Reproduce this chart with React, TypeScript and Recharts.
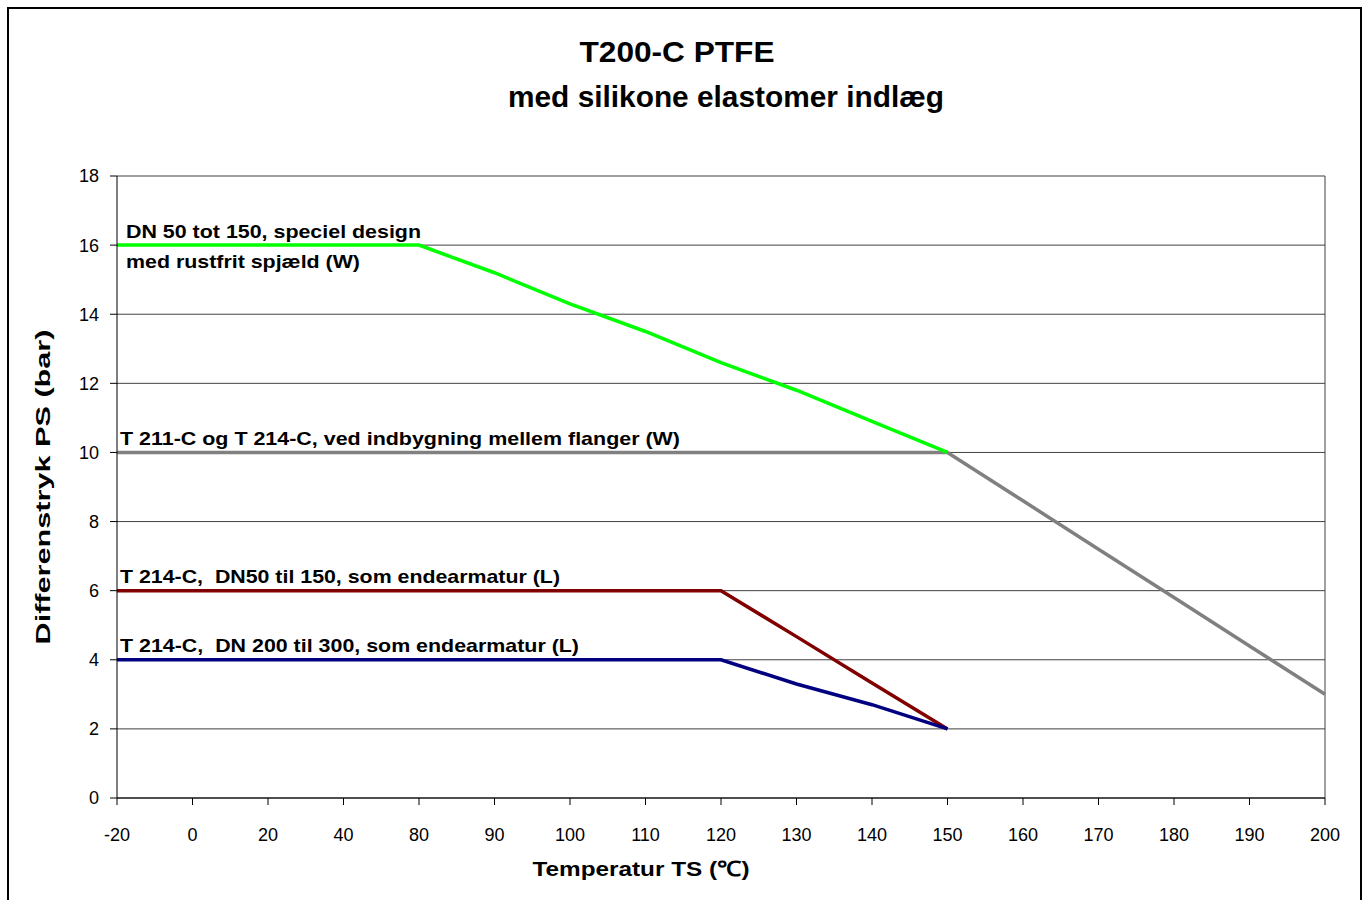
import React from 'react';
import { LineChart, Line, XAxis, YAxis, CartesianGrid, ReferenceLine, ReferenceDot } from 'recharts';

const temps = [-20, 0, 20, 40, 80, 90, 100, 110, 120, 130, 140, 150, 160, 170, 180, 190, 200];
const greenSeries = [16, 16, 16, 16, 16, 15.2, 14.3, 13.5, 12.6, 11.8, 10.9, 10.0, null, null, null, null, null];
const graySeries = [10, 10, 10, 10, 10, 10, 10, 10, 10, 10, 10, 10, 8.6, 7.2, 5.8, 4.4, 3.0];
const redSeries = [6, 6, 6, 6, 6, 6, 6, 6, 6, 4.67, 3.33, 2, null, null, null, null, null];
const blueSeries = [4, 4, 4, 4, 4, 4, 4, 4, 4, 3.3, 2.7, 2, null, null, null, null, null];
const yTicks = [0, 2, 4, 6, 8, 10, 12, 14, 16, 18];

const titleLine1 = 'T200-C PTFE';
const titleLine2 = 'med silikone elastomer indlæg';
const xTitle = 'Temperatur TS (\u2103)';
const yTitle = 'Differenstryk PS (bar)';

const greenLabel1 = 'DN 50 tot 150, speciel design';
const greenLabel2 = 'med rustfrit spjæld (W)';
const grayLabel = 'T 211-C og T 214-C, ved indbygning mellem flanger (W)';
const redLabel = 'T 214-C,  DN50 til 150, som endearmatur (L)';
const blueLabel = 'T 214-C,  DN 200 til 300, som endearmatur (L)';

const data = temps.map((t, i) => ({
  t,
  green: greenSeries[i],
  gray: graySeries[i],
  red: redSeries[i],
  blue: blueSeries[i],
}));

const FONT = '"Liberation Sans", Arial, sans-serif';

const makeLabel = (lines: { text: string; dy: number; len: number }[], dx: number) => (props: any) => {
  const vb = props.viewBox || {};
  const x = (vb.x || 0) + dx;
  const y = vb.y || 0;
  return (
    <g>
      {lines.map((l, i) => (
        <text
          key={i}
          x={x}
          y={y + l.dy}
          fontFamily={FONT}
          fontWeight="bold"
          fontSize={19}
          fill="#000"
          textLength={l.len}
          lengthAdjust="spacingAndGlyphs"
          style={{ whiteSpace: 'pre' }}
        >
          {l.text}
        </text>
      ))}
    </g>
  );
};

export default function App() {
  return (
    <div style={{ position: 'absolute', left: 0, top: 0, width: 1364, height: 900, overflow: 'hidden', background: '#fff' }}>
      <div
        style={{
          position: 'absolute',
          left: 7,
          top: 7,
          width: 1355,
          height: 920,
          border: '2px solid #000',
          boxSizing: 'border-box',
        }}
      />
      <div style={{ position: 'absolute', left: 0, top: 0 }}>
        <LineChart width={1364} height={900} data={data} margin={{ top: 176, right: 39, bottom: 72, left: 57 }}>
          <CartesianGrid vertical={false} stroke="#404040" strokeWidth={1} />
          <XAxis
            dataKey="t"
            type="category"
            interval={0}
            stroke="#000"
            tickSize={7}
            tickMargin={23}
            height={30}
            tick={{ fill: '#000', fontSize: 18, fontFamily: FONT }}
            tickLine={{ stroke: '#000' }}
          />
          <YAxis
            domain={[0, 18]}
            ticks={yTicks}
            interval={0}
            width={60}
            stroke="#000"
            tickSize={7}
            tickMargin={11}
            tick={{ fill: '#000', fontSize: 18, fontFamily: FONT }}
            tickLine={{ stroke: '#000' }}
          />
          <ReferenceLine x={200} stroke="#404040" strokeWidth={1} />
          <Line type="linear" dataKey="gray" stroke="#808080" strokeWidth={3.5} dot={false} isAnimationActive={false} />
          <Line type="linear" dataKey="green" stroke="#00FF00" strokeWidth={3.5} dot={false} isAnimationActive={false} />
          <Line type="linear" dataKey="red" stroke="#800000" strokeWidth={3.5} dot={false} isAnimationActive={false} />
          <Line type="linear" dataKey="blue" stroke="#000080" strokeWidth={3.5} dot={false} isAnimationActive={false} />
          <ReferenceDot
            x={-20}
            y={16}
            r={0}
            fill="none"
            stroke="none"
            label={{
              content: makeLabel(
                [
                  { text: greenLabel1, dy: -7, len: 295 },
                  { text: greenLabel2, dy: 23, len: 234 },
                ],
                9
              ),
            }}
          />
          <ReferenceDot
            x={-20}
            y={10}
            r={0}
            fill="none"
            stroke="none"
            label={{ content: makeLabel([{ text: grayLabel, dy: -7, len: 560 }], 3) }}
          />
          <ReferenceDot
            x={-20}
            y={6}
            r={0}
            fill="none"
            stroke="none"
            label={{ content: makeLabel([{ text: redLabel, dy: -8, len: 440 }], 3) }}
          />
          <ReferenceDot
            x={-20}
            y={4}
            r={0}
            fill="none"
            stroke="none"
            label={{ content: makeLabel([{ text: blueLabel, dy: -8, len: 459 }], 3) }}
          />
        </LineChart>
      </div>
      <svg
        width={1364}
        height={900}
        style={{ position: 'absolute', left: 0, top: 0, pointerEvents: 'none' }}
      >
        <text
          x={677}
          y={62}
          textAnchor="middle"
          fontFamily={FONT}
          fontWeight="bold"
          fontSize={30}
          fill="#000"
          textLength={195}
          lengthAdjust="spacingAndGlyphs"
        >
          {titleLine1}
        </text>
        <text
          x={726}
          y={107}
          textAnchor="middle"
          fontFamily={FONT}
          fontWeight="bold"
          fontSize={30}
          fill="#000"
          textLength={436}
          lengthAdjust="spacingAndGlyphs"
        >
          {titleLine2}
        </text>
        <text
          x={641}
          y={876}
          textAnchor="middle"
          fontFamily={FONT}
          fontWeight="bold"
          fontSize={21}
          fill="#000"
          textLength={217}
          lengthAdjust="spacingAndGlyphs"
        >
          {xTitle}
        </text>
        <text
          x={42}
          y={487}
          transform="rotate(-90 42 487)"
          textAnchor="middle"
          dominantBaseline="central"
          fontFamily={FONT}
          fontWeight="bold"
          fontSize={21}
          fill="#000"
          textLength={315}
          lengthAdjust="spacingAndGlyphs"
        >
          {yTitle}
        </text>
      </svg>
    </div>
  );
}
